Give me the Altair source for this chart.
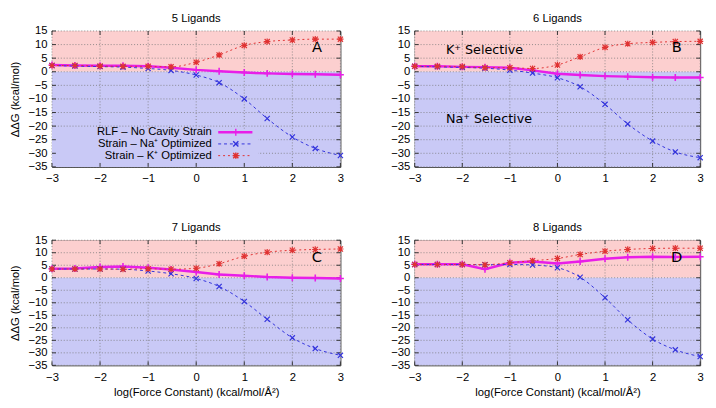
import altair as alt
import pandas as pd

# ---------------- data ----------------
xs = [-3, -2.523, -2, -1.523, -1, -0.523, 0, 0.477, 1, 1.477, 2, 2.477, 3]

rlf_5 = [2.5, 2.3, 2.2, 2.2, 2.0, 1.5, 0.7, 0.2, -0.3, -0.6, -0.8, -0.9, -1.1]
na_5 = [2.3, 2.1, 1.9, 1.7, 1.2, 0.5, -1.2, -4.0, -10.0, -17.2, -24.0, -28.2, -30.8]
k_5 = [2.3, 2.3, 2.1, 2.0, 2.0, 1.8, 3.5, 6.2, 9.7, 11.1, 11.7, 12.0, 12.0]

rlf_6 = [2.0, 2.0, 1.8, 1.7, 1.5, 0.5, -0.7, -1.2, -1.6, -1.8, -2.0, -2.1, -2.1]
na_6 = [2.0, 1.8, 1.6, 1.3, 0.6, -0.5, -2.2, -5.5, -12.0, -19.2, -25.5, -29.5, -31.6]
k_6 = [2.0, 2.0, 1.9, 1.5, 1.5, 1.2, 2.5, 5.5, 9.0, 10.3, 10.8, 11.1, 11.2]

rlf_7 = [3.6, 3.7, 4.3, 4.5, 4.0, 3.3, 2.3, 1.3, 0.8, 0.3, 0.0, -0.1, -0.3]
na_7 = [3.5, 3.5, 3.5, 3.4, 2.7, 1.6, -0.3, -3.5, -9.5, -16.6, -24.0, -28.3, -31.0]
k_7 = [3.5, 3.5, 3.5, 3.4, 3.6, 3.4, 3.8, 5.6, 8.6, 10.2, 11.0, 11.3, 11.5]

rlf_8 = [5.4, 5.4, 5.4, 3.4, 6.0, 6.5, 5.7, 6.5, 7.6, 8.2, 8.4, 8.3, 8.4]
na_8 = [5.3, 5.3, 5.3, 5.2, 5.3, 5.1, 4.0, 0.2, -8.0, -16.8, -24.5, -28.8, -31.5]
k_8 = [5.3, 5.3, 5.3, 5.2, 6.0, 6.8, 7.7, 9.3, 10.6, 11.3, 11.7, 11.8, 11.8]

panel_titles = ["5 Ligands", "6 Ligands", "7 Ligands", "8 Ligands"]
panel_letters = ["A", "B", "C", "D"]
panel_rlf = [rlf_5, rlf_6, rlf_7, rlf_8]
panel_na = [na_5, na_6, na_7, na_8]
panel_k = [k_5, k_6, k_7, k_8]

series_names = ["RLF – No Cavity Strain", "Strain – Na⁺ Optimized", "Strain – K⁺ Optimized"]

x_ticks = [-3, -2, -1, 0, 1, 2, 3]
y_ticks = [-35, -30, -25, -20, -15, -10, -5, 0, 5, 10, 15]

region_lo = [0, -35]
region_hi = [15, 0]
region_fill = ["#fccfcf", "#c9c9f6"]

# ---------------- styles ----------------
MAG = "#e81ee8"
BLUE = "#3232dc"
RED = "#e03232"
FONT = "Liberation Sans"
LFONT = "DejaVu Sans"
PLUS = "M-1,0L1,0M0,-1L0,1"
CROSS = "M-1,-1L1,1M-1,1L1,-1"
STAR = "M-1,-1L1,1M-1,1L1,-1M-1.2,0L1.2,0M0,-1.2L0,1.2"
X_TITLE = "log(Force Constant) (kcal/mol/Å²)"
Y_TITLE = "ΔΔG (kcal/mol)"
TICK_LEN = 4

xsc = alt.Scale(domain=[-3, 3], nice=False, zero=False)
ysc = alt.Scale(domain=[-35, 15], nice=False, zero=False)


def panel(i, w, h, bottom, left):
    xaxis = alt.Axis(values=x_ticks, grid=False, ticks=False, domain=False,
                     labelPadding=6, format="d", labelFlush=False,
                     title=X_TITLE if bottom else None, titlePadding=4)
    yaxis = alt.Axis(values=y_ticks, grid=False, ticks=False, domain=False,
                     labelPadding=5, format="d", labelFlush=False,
                     title=Y_TITLE if left else None, titlePadding=8)

    def X(f):
        return alt.X(f, type="quantitative", scale=xsc, axis=xaxis)

    def Y(f):
        return alt.Y(f, type="quantitative", scale=ysc, axis=yaxis)

    bg_df = pd.DataFrame({"lo": region_lo, "hi": region_hi, "fill": region_fill})
    bg = alt.Chart(bg_df).mark_rect().encode(
        x=alt.value(0), x2=alt.value(w), y=Y("lo"), y2="hi",
        color=alt.Color("fill:N", scale=None))

    xdf = pd.DataFrame({"g": x_ticks})
    ydf = pd.DataFrame({"g": y_ticks})
    gx = alt.Chart(xdf).mark_rule(
        color="#777", strokeWidth=0.8, strokeDash=[1, 2]).encode(
        x=X("g"), y=alt.value(0), y2=alt.value(h))
    gy = alt.Chart(ydf).mark_rule(
        color="#777", strokeWidth=0.8, strokeDash=[1, 2]).encode(
        y=Y("g"), x=alt.value(0), x2=alt.value(w))

    layers = [bg, gx, gy]

    if i == 0:
        lb = alt.Chart(pd.DataFrame({"lo": [region_lo[1]]})).mark_rect(
            color=region_fill[1]).encode(
            x=alt.value(0), x2=alt.value(211), y=alt.value(100), y2=alt.value(h))
        layers.append(lb)

    # inward ticks on all four borders (gnuplot style)
    tk = dict(color="#333", strokeWidth=1)
    layers += [
        alt.Chart(xdf).mark_rule(**tk).encode(x=X("g"), y=alt.value(h - TICK_LEN), y2=alt.value(h)),
        alt.Chart(xdf).mark_rule(**tk).encode(x=X("g"), y=alt.value(0), y2=alt.value(TICK_LEN)),
        alt.Chart(ydf).mark_rule(**tk).encode(y=Y("g"), x=alt.value(0), x2=alt.value(TICK_LEN)),
        alt.Chart(ydf).mark_rule(**tk).encode(y=Y("g"), x=alt.value(w - TICK_LEN), x2=alt.value(w)),
    ]

    def series(vals, color, width, dash, shape, size, sw, interp):
        df = pd.DataFrame({"x": xs, "y": vals})
        kw = dict(color=color, strokeWidth=width, interpolate=interp)
        if dash:
            kw["strokeDash"] = dash
        ln = alt.Chart(df).mark_line(**kw).encode(x=X("x"), y=Y("y"))
        pt = alt.Chart(df).mark_point(shape=shape, color=color, filled=False,
                                      size=size, strokeWidth=sw, opacity=1).encode(
            x=X("x"), y=Y("y"))
        return [ln, pt]

    layers += series(panel_rlf[i], MAG, 2.5, None, PLUS, 50, 1.6, "linear")
    layers += series(panel_na[i], BLUE, 1.0, [3, 3], CROSS, 28, 1.2, "monotone")
    layers += series(panel_k[i], RED, 1.0, [2, 3], STAR, 28, 1.2, "monotone")

    letter = alt.Chart(pd.DataFrame({"t": [panel_letters[i]]})).mark_text(
        font=LFONT, fontSize=15, color="black", align="center", baseline="middle").encode(
        text="t:N", x=alt.value(w - 24), y=alt.value(17))
    layers.append(letter)

    if i == 1:
        sel = alt.Chart(pd.DataFrame({"t": ["K⁺ Selective", "Na⁺ Selective"],
                                      "py": [20, 90]})).mark_text(
            font=LFONT, fontSize=13, color="black", align="left", baseline="middle").encode(
            text="t:N", x=alt.value(32), y=alt.Y("py:Q", scale=None))
        layers.append(sel)

    if i == 0:
        rows_y = [103.5, 115.5, 127.5]
        cols = [MAG, BLUE, RED]
        widths = [2.5, 1.0, 1.0]
        dashes = [None, [3, 3], [2, 3]]
        shapes = [PLUS, CROSS, STAR]
        sizes = [50, 28, 28]
        for r in range(3):
            t = alt.Chart(pd.DataFrame({"t": [series_names[r]]})).mark_text(
                font=FONT, fontSize=11.5, color="black", align="right",
                baseline="middle").encode(
                text="t:N", x=alt.value(163.5), y=alt.value(rows_y[r]))
            kw = dict(color=cols[r], strokeWidth=widths[r])
            if dashes[r]:
                kw["strokeDash"] = dashes[r]
            rl = alt.Chart(pd.DataFrame({"t": [series_names[r]]})).mark_rule(**kw).encode(
                x=alt.value(170), x2=alt.value(205), y=alt.value(rows_y[r]))
            pm = alt.Chart(pd.DataFrame({"t": [series_names[r]]})).mark_point(
                shape=shapes[r], color=cols[r], filled=False, size=sizes[r],
                strokeWidth=1.4, opacity=1).encode(
                x=alt.value(188), y=alt.value(rows_y[r]))
            layers += [t, rl, pm]

    return alt.layer(*layers).properties(
        width=w, height=h,
        title=alt.TitleParams(panel_titles[i], font=FONT, fontSize=11.5,
                              fontWeight="normal", color="black", offset=1))


top = alt.hconcat(panel(0, 295, 139, False, True), panel(1, 292, 139, False, False),
                  spacing=42)
bot = alt.hconcat(panel(2, 295, 128, True, True), panel(3, 292, 128, True, False),
                  spacing=42)

chart = alt.vconcat(top, bot, spacing=38).properties(
    padding={"left": 0, "top": 0, "right": 0, "bottom": 0}
).configure_view(stroke="#333", strokeWidth=1).configure_axis(
    labelFont=FONT, labelFontSize=11.5, labelColor="black",
    titleFont=FONT, titleFontSize=11.5, titleColor="black", titleFontWeight="normal"
)

chart.save("out.html", embed_options={"renderer": "svg", "actions": False})
